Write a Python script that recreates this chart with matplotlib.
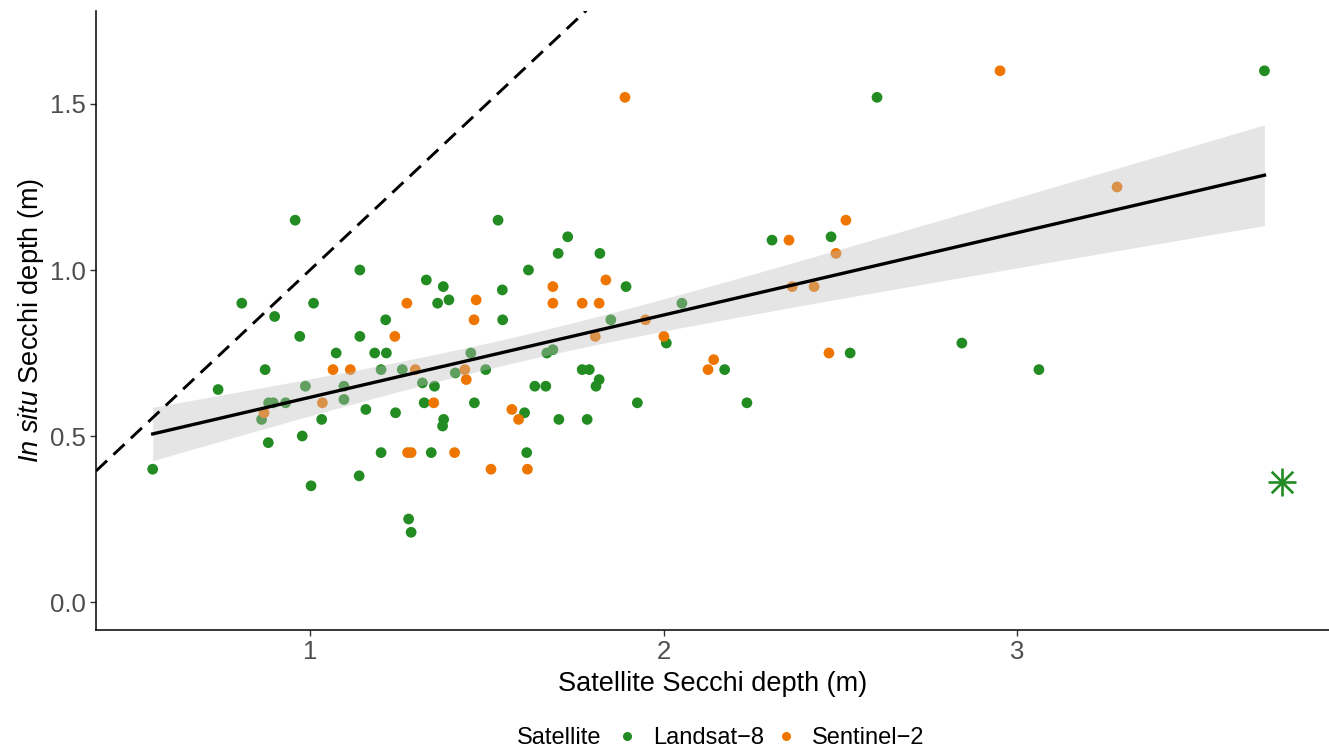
import numpy as np
import matplotlib
matplotlib.use("Agg")
import matplotlib.pyplot as plt
from matplotlib.lines import Line2D

plt.rcParams['font.family'] = ['Liberation Sans', 'DejaVu Sans']
plt.rcParams['mathtext.fontset'] = 'custom'
plt.rcParams['mathtext.rm'] = 'Liberation Sans'
plt.rcParams['mathtext.it'] = 'Liberation Sans:italic'

# Landsat-8 matchups: satellite-derived vs in situ Secchi depth (m)
landsat_sat = [0.555, 0.74, 0.807, 0.863, 0.873, 0.882, 0.883, 0.896, 0.90, 0.931,
               0.958, 0.971, 0.978, 0.987, 1.003, 1.01, 1.033, 1.074, 1.096, 1.096,
               1.139, 1.141, 1.141, 1.158, 1.183, 1.201, 1.201, 1.214, 1.216, 1.242,
               1.261, 1.279, 1.286, 1.318, 1.323, 1.329, 1.343, 1.352, 1.361, 1.375,
               1.377, 1.378, 1.393, 1.411, 1.455, 1.465, 1.497, 1.532, 1.544, 1.545,
               1.607, 1.613, 1.618, 1.636, 1.667, 1.67, 1.687, 1.702, 1.704, 1.729,
               1.77, 1.784, 1.79, 1.809, 1.818, 1.82, 1.851, 1.894, 1.926, 2.008,
               2.052, 2.173, 2.236, 2.307, 2.474, 2.528, 2.604, 2.844, 3.062, 3.70]
landsat_insitu = [0.40, 0.64, 0.90, 0.55, 0.70, 0.48, 0.60, 0.60, 0.86, 0.60,
                  1.15, 0.80, 0.50, 0.65, 0.35, 0.90, 0.55, 0.75, 0.65, 0.61,
                  0.38, 1.00, 0.80, 0.58, 0.75, 0.70, 0.45, 0.85, 0.75, 0.57,
                  0.70, 0.25, 0.21, 0.66, 0.60, 0.97, 0.45, 0.65, 0.90, 0.53,
                  0.95, 0.55, 0.91, 0.69, 0.75, 0.60, 0.70, 1.15, 0.94, 0.85,
                  0.57, 0.45, 1.00, 0.65, 0.65, 0.75, 0.76, 1.05, 0.55, 1.10,
                  0.70, 0.55, 0.70, 0.65, 0.67, 1.05, 0.85, 0.95, 0.60, 0.78,
                  0.90, 0.70, 0.60, 1.09, 1.10, 0.75, 1.52, 0.78, 0.70, 1.60]

# Sentinel-2 matchups
sentinel_sat = [0.87, 1.035, 1.065, 1.114, 1.24, 1.274, 1.276, 1.286, 1.298, 1.35,
                1.409, 1.438, 1.442, 1.464, 1.47, 1.512, 1.571, 1.59, 1.615, 1.687,
                1.687, 1.77, 1.807, 1.818, 1.837, 1.891, 1.949, 2.001, 2.126, 2.142,
                2.355, 2.364, 2.426, 2.468, 2.488, 2.516, 2.952, 3.283]
sentinel_insitu = [0.57, 0.60, 0.70, 0.70, 0.80, 0.90, 0.45, 0.45, 0.70, 0.60,
                   0.45, 0.70, 0.67, 0.85, 0.91, 0.40, 0.58, 0.55, 0.40, 0.95,
                   0.90, 0.90, 0.80, 0.90, 0.97, 1.52, 0.85, 0.80, 0.70, 0.73,
                   1.09, 0.95, 0.95, 0.75, 1.05, 1.15, 1.60, 1.25]

# Excluded outlier (Landsat-8)
outlier_sat = [3.75]
outlier_insitu = [0.36]

series_names = ["Landsat\u22128", "Sentinel\u22122"]
series_colors = ["#228B22", "#EE7600"]

x_ticks = [1, 2, 3]
y_ticks = [0.0, 0.5, 1.0, 1.5]
y_tick_labels = ["0.0", "0.5", "1.0", "1.5"]

fig = plt.figure(figsize=(13.29, 7.49), dpi=100)
ax = fig.add_axes([96 / 1329, 119 / 749, 1233 / 1329, 619.5 / 749])

ax.scatter(landsat_sat, landsat_insitu, s=60, color=series_colors[0],
           edgecolors='none', zorder=2)
ax.scatter(sentinel_sat, sentinel_insitu, s=60, color=series_colors[1],
           edgecolors='none', zorder=2)
ax.scatter(outlier_sat, outlier_insitu, marker='+', s=430, color=series_colors[0],
           linewidths=1.9, zorder=2)
ax.scatter(outlier_sat, outlier_insitu, marker='x', s=240, color=series_colors[0],
           linewidths=1.9, zorder=2)

# Linear fit with 95% confidence band
x = np.array(landsat_sat + sentinel_sat)
y = np.array(landsat_insitu + sentinel_insitu)
n = len(x)
slope, intercept = np.polyfit(x, y, 1)
resid = y - (intercept + slope * x)
s_err = np.sqrt(np.sum(resid ** 2) / (n - 2))
sxx = np.sum((x - x.mean()) ** 2)
xs = np.linspace(x.min(), x.max(), 100)
yhat = intercept + slope * xs
se = s_err * np.sqrt(1.0 / n + (xs - x.mean()) ** 2 / sxx)
t_crit = 1.977
ax.fill_between(xs, yhat - t_crit * se, yhat + t_crit * se, color='#BEBEBE',
                alpha=0.4, linewidth=0, zorder=3)
ax.plot(xs, yhat, color='black', linewidth=2.4, zorder=4)

# 1:1 line
ax.axline((0, 0), slope=1, color='black', linewidth=2.1,
          linestyle=(0, (5.2, 3.0)), zorder=4)

ax.set_xlim(0.3946, 3.8826)
ax.set_ylim(-0.0843, 1.7816)
ax.set_xticks(x_ticks)
ax.set_yticks(y_ticks)
ax.set_yticklabels(y_tick_labels)
for sp in ['top', 'right']:
    ax.spines[sp].set_visible(False)
for sp in ['left', 'bottom']:
    ax.spines[sp].set_linewidth(1.1)
    ax.spines[sp].set_color('black')
ax.tick_params(axis='both', length=4, width=1.0, color='#333333',
               labelcolor='#4D4D4D', labelsize=18.5, pad=3)

ax.set_xlabel("Satellite Secchi depth (m)", fontsize=19.5, labelpad=5)
ax.set_ylabel(r"$\mathit{In\ situ}$ Secchi depth (m)", fontsize=19.5, labelpad=3)

# Legend along the bottom
fig.text(517 / 1329, 1 - 738 / 749, "Satellite", fontsize=17, va='center', ha='left')
handles = [Line2D([], [], linestyle='none', marker='o', markersize=6.5,
                  markerfacecolor=c, markeredgecolor='none') for c in series_colors]
fig.legend(handles, series_names, ncol=2, loc='center left',
           bbox_to_anchor=(620 / 1329, 1 - 738 / 749), frameon=False,
           fontsize=17, handlelength=0.6, handletextpad=0.8, columnspacing=0.64,
           borderpad=0, borderaxespad=0)

fig.savefig("out.png", dpi=100)
